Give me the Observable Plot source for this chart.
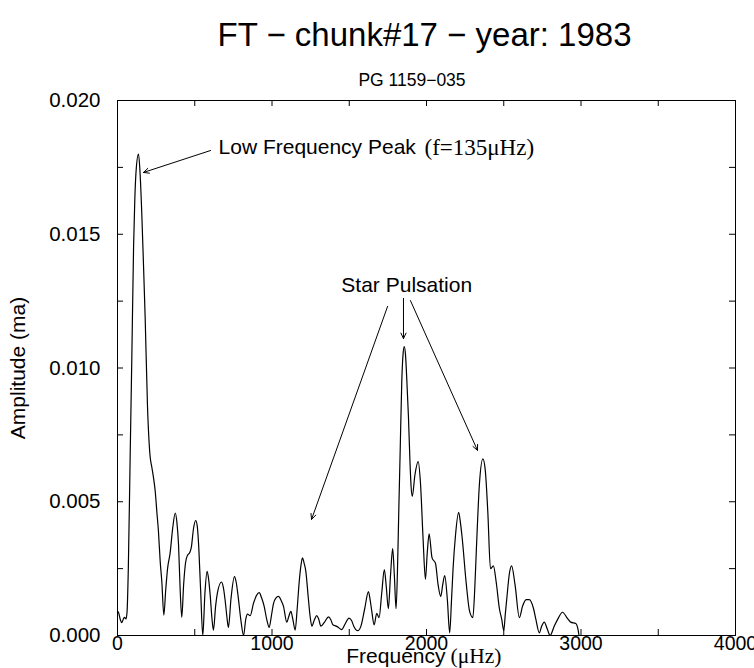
<!DOCTYPE html>
<html>
<head>
<meta charset="utf-8">
<script src="https://cdn.jsdelivr.net/npm/d3@7"></script>
<script src="https://cdn.jsdelivr.net/npm/@observablehq/plot@0.6"></script>
<style>
  html, body { margin: 0; padding: 0; background: white; }
  body { width: 754px; height: 668px; overflow: hidden; font-family: "Liberation Sans", Arial, sans-serif; color: black; }
  .title { height: 50px; padding-top: 10px; line-height: 50px; font-size: 33px; padding-left: 95px; width: 659px; text-align: center; white-space: nowrap; }
  .subtitle { height: 20px; padding-top: 10px; line-height: 20px; font-size: 17.5px; padding-left: 70px; width: 684px; text-align: center; white-space: nowrap; }
</style>
</head>
<body>
<div class="title">FT − chunk#17 − year: 1983</div>
<div class="subtitle">PG 1159−035</div>
<div id="chart"></div>
<script>
// Fourier transform amplitude spectrum
const freq = [0,6,18,28,38,45,55,62,70,82,93,104,112,122,136,146,157,168,179,194,211,222,233,244,255,265,276,287,300,312,324,341,357,374,385,395,405,416,428,440,453,468,478,492,506,516,524,538,552,566,580,590,600,612,621,635,647,673,685,697,708,718,735,757,768,780,798,816,830,841,859,880,900,917,933,949,966,982,995,1010,1025,1042,1060,1074,1096,1108,1122,1135,1150,1163,1176,1187,1197,1208,1219,1235,1247,1258,1275,1290,1303,1316,1340,1366,1380,1394,1415,1430,1450,1475,1498,1515,1530,1555,1575,1600,1624,1635,1646,1661,1678,1693,1710,1727,1740,1753,1767,1781,1792,1803,1812,1820,1830,1840,1848,1856,1864,1873,1883,1893,1900,1908,1925,1946,1961,1978,1993,2005,2017,2036,2058,2075,2092,2105,2118,2135,2150,2162,2172,2187,2208,2220,2230,2258,2279,2300,2312,2322,2343,2365,2380,2397,2414,2433,2451,2472,2487,2500,2510,2521,2536,2551,2573,2601,2622,2645,2665,2693,2708,2730,2745,2762,2783,2800,2826,2855,2880,2912,2933,2966,2981,2987];
const amp = [0.00090,0.00087,0.00060,0.00048,0.00062,0.00068,0.00062,0.00090,0.0025,0.0067,0.0105,0.0145,0.0163,0.0175,0.0180,0.0173,0.0158,0.0139,0.0119,0.0086,0.0067,0.0063,0.0059,0.0054,0.0046,0.0039,0.0028,0.0020,0.00076,0.0017,0.0025,0.0031,0.0040,0.00458,0.0042,0.0034,0.0018,0.00068,0.0019,0.0027,0.0030,0.0031,0.0033,0.0040,0.0043,0.0041,0.0035,0.0017,0.0000,0.0016,0.0024,0.0021,0.0015,0.0006,0.0002,0.0011,0.0016,0.0020,0.0018,0.0013,0.0007,0.0003,0.0014,0.0022,0.0020,0.0015,0.0006,0.0000,0.0006,0.0008,0.00074,0.0012,0.0015,0.0016,0.0014,0.0011,0.0006,0.0003,0.0007,0.0012,0.0014,0.00146,0.0013,0.0011,0.0005,0.0007,0.0009,0.0006,0.0002,0.0010,0.0020,0.0026,0.0029,0.0027,0.0024,0.0014,0.0007,0.00035,0.0006,0.00074,0.0006,0.00035,0.0005,0.0007,0.0006,0.0004,0.00035,0.0003,0.00022,0.00045,0.00065,0.00056,0.00034,0.00018,0.00034,0.0010,0.00164,0.00134,0.0009,0.0004,0.00083,0.00067,0.00157,0.00246,0.0018,0.0010,0.00224,0.00325,0.00224,0.0010,0.0024,0.0045,0.0070,0.0095,0.0105,0.0108,0.0105,0.0095,0.0082,0.0065,0.0056,0.0052,0.0060,0.0065,0.0057,0.0036,0.0021,0.0031,0.0038,0.0029,0.0027,0.0019,0.00146,0.0019,0.00224,0.00134,0.0001,0.00134,0.0025,0.0037,0.0046,0.0042,0.0037,0.0019,0.0009,0.00067,0.0017,0.0031,0.0057,0.0066,0.0062,0.0046,0.0025,0.0026,0.0020,0.0010,0.0006,0.00018,0.0008,0.00146,0.0023,0.0026,0.0019,0.00067,0.0011,0.00134,0.00134,0.0010,0.0006,0.0001,0.00034,0.0005,0.00022,0.0000,0.00034,0.00067,0.00087,0.00064,0.0005,0.00045,0.00022,0.0000];

// Axis ticks and labels
const xLabelTicks = [0, 1000, 2000, 3000, 4000];
const xMinorTicks = [0, 500, 1000, 1500, 2000, 2500, 3000, 3500, 4000];
const yLabelTicks = [0, 0.005, 0.010, 0.015, 0.020];
const yMinorTicks = [0, 0.0025, 0.005, 0.0075, 0.010, 0.0125, 0.015, 0.0175, 0.020];

// Annotations
const arrowFromFreq = [602, 1748, 1851, 1896];
const arrowFromAmp  = [0.01813, 0.0123, 0.0126, 0.01252];
const arrowToFreq   = [168, 1256, 1851, 2330];
const arrowToAmp    = [0.01731, 0.00434, 0.0111, 0.00692];

const lowNoteText = ["Low Frequency Peak"];
const lowNoteFreq = [654];
const lowNoteAmp  = [0.01824];

const starNoteText = ["Star Pulsation"];
const starNoteFreq = [1872];
const starNoteAmp  = [0.01308];

const serifNoteText = ["(f=135μHz)"];
const serifNoteFreq = [1987];
const serifNoteAmp  = [0.01824];

const spectrum = freq.map((f, i) => ({f, a: amp[i]}));
const arrows = arrowFromFreq.map((f, i) => ({x1: f, y1: arrowFromAmp[i], x2: arrowToFreq[i], y2: arrowToAmp[i]}));
const lowNotes = lowNoteText.map((t, i) => ({t, f: lowNoteFreq[i], a: lowNoteAmp[i]}));
const starNotes = starNoteText.map((t, i) => ({t, f: starNoteFreq[i], a: starNoteAmp[i]}));
const serifNotes = serifNoteText.map((t, i) => ({t, f: serifNoteFreq[i], a: serifNoteAmp[i]}));

const W = 754, H = 578, mT = 10, mB = 33, mL = 117, mR = 19;
const frameW = W - mL - mR, frameH = H - mT - mB, tickLen = 6;

const chart = Plot.plot({
  width: W,
  height: H,
  marginTop: mT,
  marginBottom: mB,
  marginLeft: mL,
  marginRight: mR,
  style: {fontFamily: "Liberation Sans, Arial, sans-serif", fontSize: "21px", color: "black", background: "white", overflow: "visible"},
  x: {domain: [0, 4000]},
  y: {domain: [0, 0.020]},
  marks: [
    Plot.frame({stroke: "black", strokeWidth: 1}),
    // inward tick marks on all four sides
    Plot.ruleX(xMinorTicks, {x: d => d, insetTop: frameH - tickLen, stroke: "black"}),
    Plot.ruleX(xMinorTicks, {x: d => d, insetBottom: frameH - tickLen, stroke: "black"}),
    Plot.ruleY(yMinorTicks, {y: d => d, insetRight: frameW - tickLen, stroke: "black"}),
    Plot.ruleY(yMinorTicks, {y: d => d, insetLeft: frameW - tickLen, stroke: "black"}),
    // tick labels
    Plot.axisX(xLabelTicks, {anchor: "bottom", tickSize: 0, tickPadding: 1, label: null, fontSize: 19.5, tickFormat: d3.format("d")}),
    Plot.axisY(yLabelTicks, {anchor: "left", tickSize: 0, tickPadding: 17, label: null, fontSize: 20.5, tickFormat: d3.format(".3f")}),
    // axis titles
    Plot.text(["Frequency"], {frameAnchor: "bottom", textAnchor: "end", lineAnchor: "middle", dx: 19, dy: 21, fontSize: 21}),
    Plot.text(["(μHz)"], {frameAnchor: "bottom", textAnchor: "start", lineAnchor: "middle", dx: 24, dy: 21, fontSize: 21.5, fontFamily: "Liberation Serif, Times New Roman, serif"}),
    Plot.text(["Amplitude (ma)"], {frameAnchor: "left", textAnchor: "middle", lineAnchor: "middle", rotate: -90, dx: -99.5, fontSize: 21}),
    // spectrum
    Plot.line(spectrum, {x: "f", y: "a", stroke: "black", strokeWidth: 1.2, curve: "monotone-x"}),
    // annotations
    Plot.arrow(arrows, {x1: "x1", y1: "y1", x2: "x2", y2: "y2", stroke: "black", strokeWidth: 1, headLength: 9, headAngle: 50}),
    Plot.text(lowNotes, {x: "f", y: "a", text: "t", textAnchor: "start", lineAnchor: "middle", fontSize: 21}),
    Plot.text(starNotes, {x: "f", y: "a", text: "t", textAnchor: "middle", lineAnchor: "middle", fontSize: 21}),
    Plot.text(serifNotes, {x: "f", y: "a", text: "t", textAnchor: "start", lineAnchor: "middle", fontSize: 23, fontFamily: "Liberation Serif, Times New Roman, serif"})
  ]
});
document.getElementById("chart").appendChild(chart);
</script>
</body>
</html>
